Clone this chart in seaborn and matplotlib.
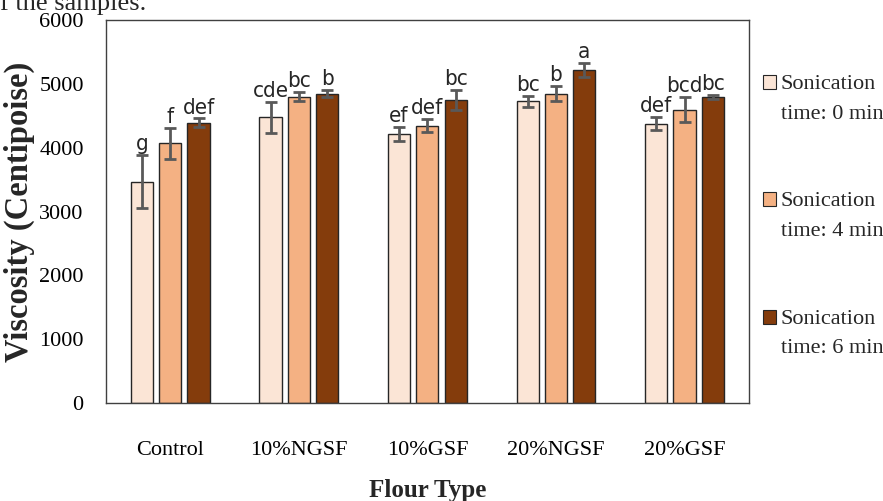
import matplotlib
matplotlib.use("Agg")
import matplotlib.pyplot as plt
import seaborn as sns
import pandas as pd
import numpy as np

flour_types = ["Control", "10%NGSF", "10%GSF", "20%NGSF", "20%GSF"]
times = ["Sonication\ntime: 0 min", "Sonication\ntime: 4 min", "Sonication\ntime: 6 min"]
visc_0 = [3470, 4480, 4210, 4730, 4380]
visc_4 = [4070, 4800, 4350, 4850, 4600]
visc_6 = [4390, 4850, 4750, 5220, 4800]
err_0 = [420, 245, 110, 90, 105]
err_4 = [240, 70, 105, 115, 190]
err_6 = [70, 55, 150, 105, 30]
letters_0 = ["g", "cde", "ef", "bc", "def"]
letters_4 = ["f", "bc", "def", "b", "bcd"]
letters_6 = ["def", "b", "bc", "a", "bc"]

values = [visc_0, visc_4, visc_6]
errors = [err_0, err_4, err_6]
letters = [letters_0, letters_4, letters_6]
colors = ["#FBE5D6", "#F4B183", "#843C0C"]

rows = []
for t, vals in zip(times, values):
    for f, v in zip(flour_types, vals):
        rows.append({"Flour Type": f, "Time": t, "Viscosity": v})
df = pd.DataFrame(rows)

sns.set_theme(style="white")
serif = ["Liberation Serif", "DejaVu Serif"]
plt.rcParams["font.family"] = serif

fig = plt.figure(figsize=(8.83, 5.01), dpi=100)
ax = fig.add_axes([0.12, 0.1956, 0.728, 0.764])

sns.barplot(data=df, x="Flour Type", y="Viscosity", hue="Time",
            hue_order=times, order=flour_types, palette=colors, saturation=1,
            width=0.66, gap=0.22, edgecolor="#262626", linewidth=1.0,
            errorbar=None, ax=ax)

for cont, err, labs in zip(ax.containers, errors, letters):
    xs = [p.get_x() + p.get_width() / 2 for p in cont.patches]
    hs = [p.get_height() for p in cont.patches]
    ax.errorbar(xs, hs, yerr=err, fmt="none", ecolor="#595959",
                elinewidth=2, capsize=4.5, capthick=2, zorder=5)
    for x, h, e, l in zip(xs, hs, err, labs):
        ax.text(x, h + e + 15, l, ha="center", va="bottom",
                fontsize=16, color="#262626", family=["DejaVu Sans"],
                fontstretch="condensed")

ax.set_ylim(0, 6000)
ax.set_xlim(-0.5, 4.5)
ax.set_yticks(range(0, 6001, 1000))
ax.tick_params(axis="both", length=0, labelsize=16, colors="black")
ax.tick_params(axis="y", pad=16)
ax.tick_params(axis="x", pad=27)
for s in ax.spines.values():
    s.set_color("#404040")
    s.set_linewidth(1.0)
ax.set_xlabel("Flour Type", fontsize=18, fontweight="bold", labelpad=14)
ax.set_ylabel("Viscosity (Centipoise)", fontsize=23.5, fontweight="bold", labelpad=3)

handles, labels = ax.get_legend_handles_labels()
leg = ax.legend(handles, labels, loc="upper left", bbox_to_anchor=(1.008, 0.88),
                frameon=False, fontsize=16, handlelength=0.6, handleheight=0.6,
                handletextpad=0.2, labelspacing=3.1, borderaxespad=0)
for t in leg.get_texts():
    t.set_linespacing(1.75)
for h in leg.legend_handles:
    h.set_y(h.get_y() + 12)
    h.set_linewidth(0.8)
    h.set_edgecolor("#262626")

fig.text(0.0, 1 - 10 / 501, "f the samples.", fontsize=19, va="baseline", ha="left")

fig.savefig("out.png", dpi=100)
